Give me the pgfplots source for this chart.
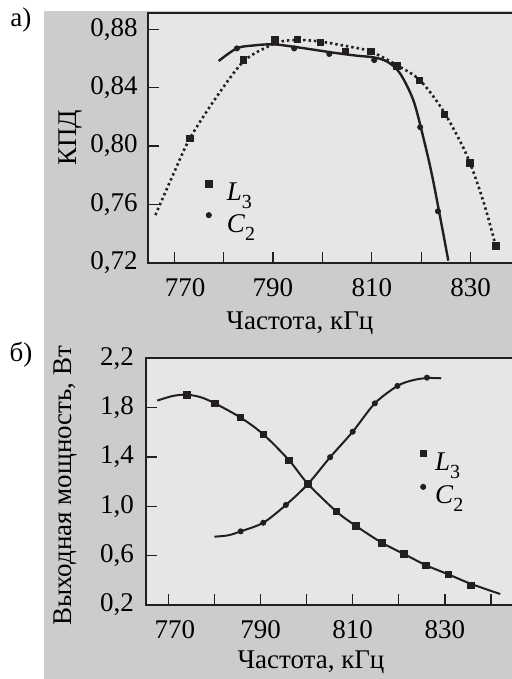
\documentclass[border=0pt]{standalone}
\usepackage{pgfplots}
\pgfplotsset{compat=1.18}
\usepackage{fontspec}
\setmainfont{Liberation Serif}

\definecolor{outer}{RGB}{204,204,204}
\definecolor{inner}{RGB}{230,230,230}
\definecolor{ink}{RGB}{35,31,32}

\pgfplotsset{
  panel/.style={
    scale only axis,
    anchor=south west,
    axis background/.style={fill=inner},
    axis line style={ink, line width=0.9pt},
    tick style={ink, line width=0.6pt},
    major tick length=5.5pt, minor tick length=5.5pt,
    tick pos=left, tick align=inside,
    /pgf/number format/assume math mode=true,
    xtick={770,790,810,830}, minor xtick={780,800,820,840},
    xticklabel style={yshift=-3pt},
    legend cell align=left,
    legend image code/.code={\path[draw=none,fill=none] (0pt,0pt) -- (12pt,0pt); \draw[##1] plot coordinates {(6pt,4.5pt)};},
    legend style={draw=none, fill=none, inner sep=0pt, anchor=north west,
      nodes={inner sep=0pt, text height=10pt, text depth=2pt}},
  },
  sq/.style={only marks, mark=square*, mark size=1.6pt, color=ink},
  ci/.style={only marks, mark=*, mark size=1.3pt, color=ink},
  fit/.style={no marks, smooth, color=ink, line width=#1},
}

\newcommand{\Lt}{\textit{L}\raisebox{-4pt}{\fontsize{10}{10}\selectfont 3}}
\newcommand{\Ct}{\textit{C}\raisebox{-4pt}{\fontsize{10}{10}\selectfont 2}}

\begin{document}
\fontsize{13.5}{16}\selectfont
\begin{tikzpicture}
\useasboundingbox (0,0) rectangle (256pt,-339.5pt);
\clip (0,0) rectangle (256pt,-339.5pt);
\fill[outer] (22pt,-5.5pt) rectangle (256pt,-339.5pt);
\node[anchor=base west, inner sep=0pt] at (5pt,-13.35pt) {а)};
\node[anchor=base west, inner sep=0pt] at (4.65pt,-180.8pt) {б)};

% а) КПД
\begin{axis}[panel,
  at={(74pt,-131.35pt)}, width=183.5pt, height=124.85pt,
  xmin=764.7, xmax=839, ymin=0.72, ymax=0.8913,
  xticklabels={\hspace*{11pt}770,790,810,830},
  ytick={0.72,0.76,0.80,0.84,0.88},
  yticklabel style={xshift=-0.5pt, /pgf/number format/.cd, fixed, fixed zerofill, precision=2, use comma},
  xlabel={Частота, кГц},
  xlabel style={at={(axis description cs:0.414,-0.2683)}, anchor=base},
  ylabel={КПД},
  ylabel style={at={(axis description cs:-0.2098,0.5)}, anchor=center},
  legend style={at={(axis cs:774.5,0.7765)}, row sep=3.6pt, column sep=3pt},
]
\addplot[fit=1.3pt, dash pattern=on 1.2pt off 1.5pt, forget plot] coordinates {
 (766.2,0.7527) (769.9,0.7813) (773.2,0.8054) (778.6,0.8339) (784.0,0.8580)
 (788.8,0.8680) (792.0,0.8720) (795.5,0.8728) (799.6,0.8717) (805.0,0.8685)
 (809.7,0.8650) (815.1,0.8555) (819.8,0.8450) (824.5,0.8240) (829.2,0.7940)
 (832.6,0.7620) (835.1,0.7315)};
\addplot[fit=1.2pt, forget plot] coordinates {
 (779.0,0.8584) (782.7,0.8671) (786.0,0.8690) (790.1,0.8698) (795.5,0.8675)
 (802.2,0.8641) (807.0,0.8620) (810.3,0.8609) (813.1,0.8580) (815.7,0.8500)
 (818.4,0.8316) (820.4,0.8064) (822.4,0.7767) (825.5,0.7214)};
\addplot[sq] coordinates {
 (773.2,0.8054) (784.0,0.8590) (790.4,0.8728) (795.0,0.8730) (799.6,0.8710)
 (804.7,0.8648) (809.8,0.8650) (815.1,0.8550) (819.6,0.8450) (824.7,0.8218)
 (829.9,0.7884) (835.1,0.7315)};
\addlegendentry{\Lt}
\addplot[ci] coordinates {
 (782.7,0.8670) (794.3,0.8670) (801.4,0.8632) (810.5,0.8590) (819.8,0.8130)
 (823.4,0.7553)};
\addlegendentry{\Ct}
\end{axis}

% б) Выходная мощность
\begin{axis}[panel,
  at={(72.85pt,-302.5pt)}, width=184.65pt, height=123.35pt,
  xmin=765.1, xmax=845.2, ymin=0.2, ymax=2.2,
  xticklabels={\hspace*{6.7pt}770,790,810,830},
  ytick={0.2,0.6,1.0,1.4,1.8,2.2},
  yticklabel style={xshift=-1.2pt, /pgf/number format/.cd, fixed, fixed zerofill, precision=1, use comma},
  xlabel={Частота, кГц},
  xlabel style={at={(axis description cs:0.4476,-0.2554)}, anchor=base},
  ylabel={Выходная мощность, Вт},
  ylabel style={at={(axis description cs:-0.2185,0.483)}, anchor=center},
  legend style={at={(axis cs:822.6,1.459)}, row sep=4.8pt, column sep=0pt},
]
\addplot[fit=1pt, forget plot] coordinates {
 (767.6,1.857) (771.0,1.895) (774.0,1.905) (777.0,1.885) (780.1,1.835)
 (785.7,1.719) (790.6,1.584) (796.2,1.373) (800.3,1.181) (806.5,0.957)
 (810.7,0.841) (816.3,0.705) (821.1,0.614) (825.9,0.522) (830.7,0.449)
 (835.6,0.372) (842.0,0.289)};
\addplot[fit=1pt, forget plot] coordinates {
 (780.0,0.754) (783.0,0.765) (785.7,0.797) (790.6,0.867) (795.5,1.011)
 (800.3,1.181) (805.1,1.398) (810.0,1.605) (814.8,1.835) (819.7,1.976)
 (823.0,2.022) (826.1,2.040) (829.2,2.038)};
\addplot[sq] coordinates {
 (774.0,1.903) (780.1,1.835) (785.7,1.719) (790.6,1.584) (796.2,1.373)
 (800.3,1.181) (806.5,0.957) (810.7,0.841) (816.3,0.705) (821.1,0.614)
 (825.9,0.522) (830.7,0.449) (835.6,0.360)};
\addlegendentry{\Lt}
\addplot[ci] coordinates {
 (785.7,0.797) (790.6,0.867) (795.5,1.011) (800.3,1.181) (805.1,1.398)
 (810.0,1.605) (814.8,1.835) (819.7,1.976) (826.1,2.043)};
\addlegendentry{\Ct}
\end{axis}
\end{tikzpicture}
\end{document}
